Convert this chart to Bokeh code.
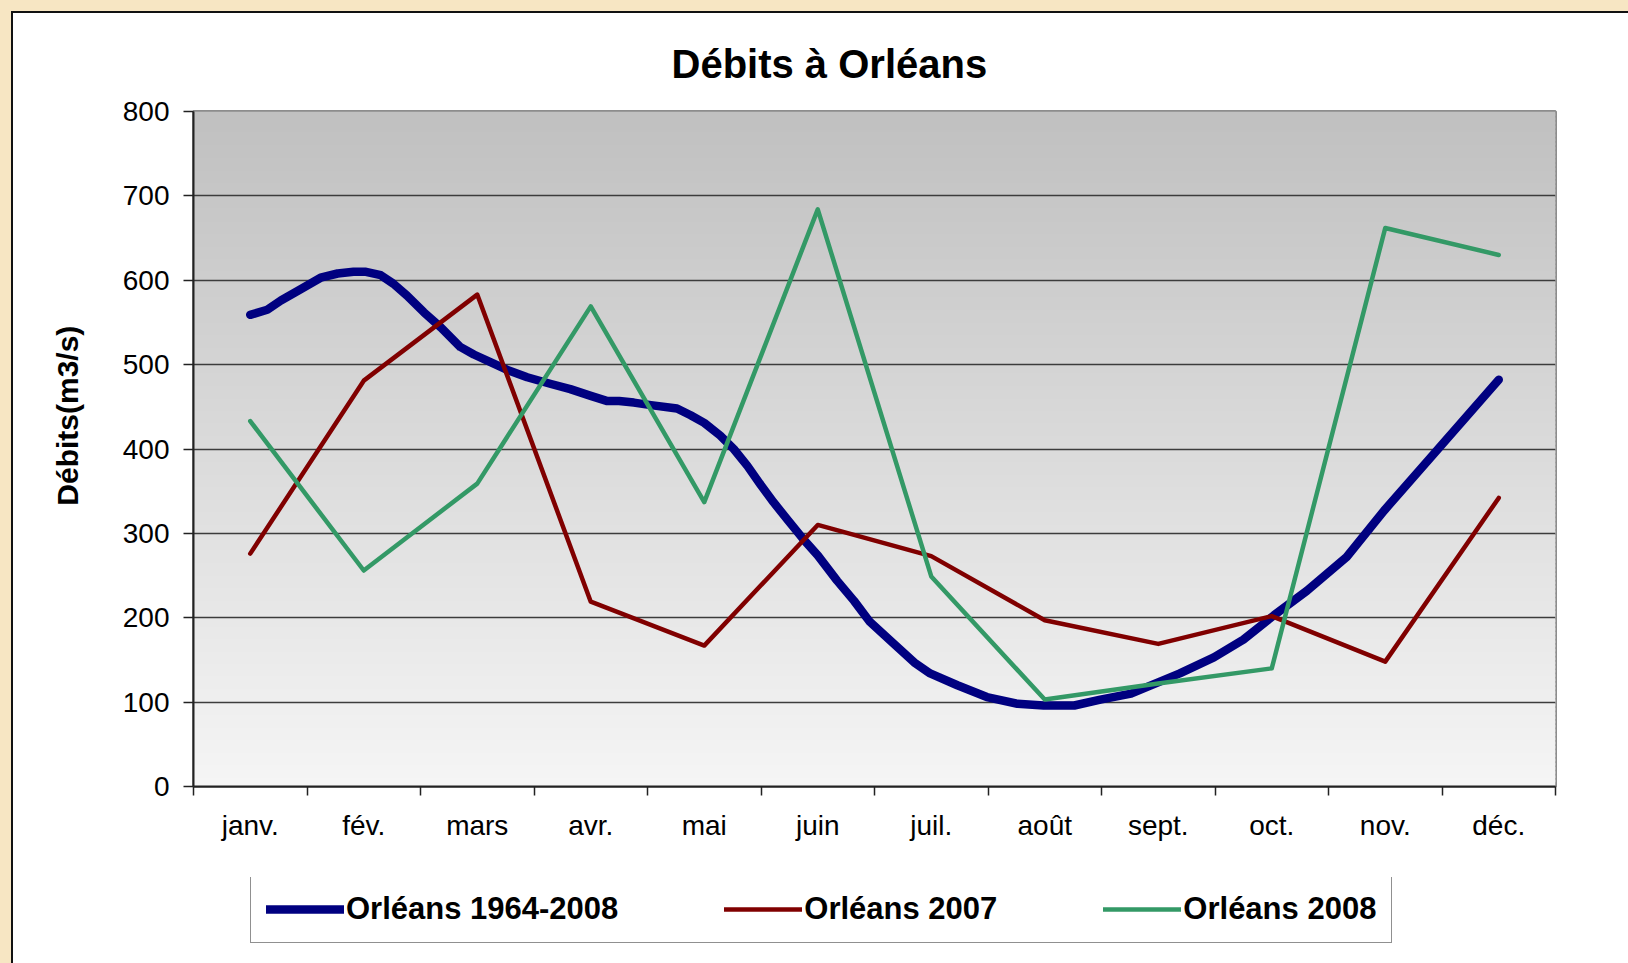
import numpy as np
from bokeh.plotting import figure
from bokeh.models import Range1d, FixedTicker, Legend, LegendItem
from bokeh.layouts import column
from bokeh.embed import file_html
from bokeh.resources import INLINE

# ---------------- data ----------------
months = ["janv.", "fév.", "mars", "avr.", "mai", "juin", "juil.", "août",
          "sept.", "oct.", "nov.", "déc."]

# Orléans 1964-2008 (fine-grained, month index positions)
mean_x = [0.0, 0.15, 0.27, 0.44, 0.62, 0.77, 0.91, 1.02, 1.15, 1.26, 1.38, 1.53,
          1.68, 1.85, 1.97, 2.15, 2.26, 2.44, 2.65, 2.82, 3.00, 3.14, 3.25, 3.38,
          3.53, 3.76, 3.88, 4.00, 4.14, 4.26, 4.38, 4.50, 4.61, 4.74, 4.88, 5.00,
          5.17, 5.32, 5.46, 5.64, 5.85, 5.99, 6.23, 6.49, 6.76, 6.99, 7.26, 7.49,
          7.76, 8.19, 8.49, 8.75, 9.02, 9.31, 9.66, 9.99, 10.40, 11.0]
mean_y = [559, 565, 576, 589, 603, 608, 610, 610, 606, 596, 582, 562,
          544, 521, 512, 501, 494, 485, 477, 471, 463, 457, 457, 455,
          452, 448, 440, 431, 416, 400, 380, 357, 337, 315, 292, 274,
          244, 220, 195, 173, 147, 134, 120, 106, 98, 96, 96, 103,
          110, 134, 153, 174, 203, 232, 272, 327, 390, 482]

y2007 = [276, 481, 583, 219, 167, 310, 273, 197, 169, 202, 148, 342]
y2008 = [433, 256, 359, 569, 337, 684, 249, 103, 122, 140, 662, 630]

labels = ["Orléans 1964-2008", "Orléans 2007", "Orléans 2008"]
colors = ["#000080", "#800000", "#339966"]
widths = [8.5, 4.5, 4.5]

y_ticks = [0, 100, 200, 300, 400, 500, 600, 700, 800]
grid_ticks = [100, 200, 300, 400, 500, 600, 700]

FONT = "Liberation Sans"
NB = "\u00a0"
FIG_W = 1615

p = figure(frame_width=1362, frame_height=675,
           output_backend="svg", toolbar_location=None,
           x_range=Range1d(-0.5, 11.5), y_range=Range1d(0, 800),
           min_border_left=180, min_border_right=FIG_W - 180 - 1362,
           min_border_top=98, min_border_bottom=91,
           background_fill_color="#f4f4f4", border_fill_color="white")

# title
p.title.text = "Débits à Orléans"
p.title.align = "left"
p.title.offset = 478
p.title.standoff = 51
p.title.text_font = FONT
p.title.text_font_size = "40px"
p.title.text_font_style = "bold"
p.title.text_color = "black"

# gradient background strips (overlapping to avoid seams)
edges = np.linspace(0, 800, 161)
step = edges[1] - edges[0]
cols = []
for lo, hi in zip(edges[:-1], edges[1:]):
    t = (lo + hi) / 2 / 800.0
    v = int(round(245 + (192 - 245) * t))
    cols.append("#%02x%02x%02x" % (v, v, v))
tops = np.minimum(edges[1:] + step * 0.6, 800)
p.quad(left=-0.5, right=11.5, bottom=edges[:-1], top=tops,
       fill_color=cols, line_color=None, level="image")

p.outline_line_color = "#8c8c8c"
p.outline_line_width = 3

# grid
p.xgrid.visible = False
p.ygrid.ticker = FixedTicker(ticks=grid_ticks)
p.ygrid.grid_line_color = "#3c3c3c"
p.ygrid.grid_line_width = 1.3

# y axis
ya = p.yaxis[0]
ya.ticker = FixedTicker(ticks=y_ticks)
ya.axis_line_color = "#222222"
ya.axis_line_width = 2
ya.major_tick_line_color = "#222222"
ya.major_tick_line_width = 1.5
ya.major_tick_out = 10
ya.major_tick_in = 0
ya.minor_tick_line_color = None
ya.major_label_standoff = 14
ya.major_label_text_font = FONT
ya.major_label_text_font_size = "28px"
ya.major_label_text_color = "black"
ya.axis_label = NB * 8 + "Débits(m3/s)"
ya.axis_label_text_font = FONT
ya.axis_label_text_font_size = "30px"
ya.axis_label_text_font_style = "bold"
ya.axis_label_text_color = "black"
ya.axis_label_standoff = 36

# x axis: labels at centres, tick marks (minor) at boundaries
xa = p.xaxis[0]
xa.ticker = FixedTicker(ticks=list(range(12)),
                        minor_ticks=[i - 0.5 for i in range(13)])
xa.major_label_overrides = {i: m for i, m in enumerate(months)}
xa.axis_line_color = "#222222"
xa.axis_line_width = 2
xa.major_tick_out = 0
xa.major_tick_in = 0
xa.major_tick_line_color = None
xa.minor_tick_line_color = "#222222"
xa.minor_tick_line_width = 1.5
xa.minor_tick_out = 9
xa.minor_tick_in = 0
xa.major_label_standoff = 14
xa.major_label_text_font = FONT
xa.major_label_text_font_size = "28px"
xa.major_label_text_color = "black"

# series
xi = list(range(12))
series = [(mean_x, mean_y), (xi, y2007), (xi, y2008)]
for (sx, sy), c, w in zip(series, colors, widths):
    p.line(sx, sy, line_color=c, line_width=w, line_cap="round",
           line_join="round")

# ---------------- legend strip (separate figure below the chart) ----------
LEG_H = 86
q = figure(width=FIG_W, height=LEG_H, output_backend="svg",
           toolbar_location=None, min_border=0,
           x_range=Range1d(-0.5, 11.5), y_range=Range1d(1000, 1100),
           background_fill_color="white", border_fill_color="white")
q.axis.visible = False
q.grid.visible = False
q.outline_line_color = None
q.outline_line_alpha = 0
items = []
for (sx, sy), c, w, lab in zip(series, colors, widths, labels):
    r = q.line(sx, sy, line_color=c, line_width=w, line_cap="round")
    items.append(LegendItem(label=lab, renderers=[r]))

legend = Legend(items=items, orientation="horizontal", location=(57, 20),
                margin=0, padding=15, spacing=106, glyph_width=78,
                glyph_height=20, label_standoff=2,
                border_line_color="#222222", border_line_width=1.2,
                background_fill_color="white", background_fill_alpha=1.0,
                label_text_font=FONT, label_text_font_size="31px",
                label_text_font_style="bold", label_text_color="black")
q.add_layout(legend, "center")

chart = column(p, q, spacing=0, styles={"background-color": "white"})
framed = column(chart, styles={"background-color": "#111111",
                               "padding": "2px 0px 0px 2px"})
outer = column(framed, styles={"background-color": "#f7e6c3",
                               "padding": "11px 0px 0px 11px"})

open("out.html", "w").write(file_html(outer, INLINE))
